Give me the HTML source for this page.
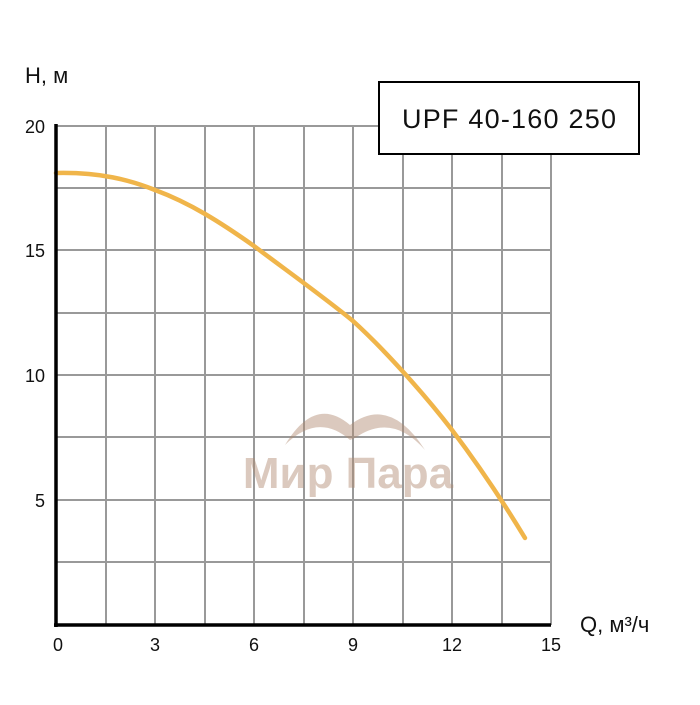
<!DOCTYPE html>
<html><head><meta charset="utf-8"><style>body{margin:0;background:#fff}</style></head>
<body>
<svg width="700" height="700" xmlns="http://www.w3.org/2000/svg" font-family="Liberation Sans, DejaVu Sans, sans-serif">
<g stroke="#999" stroke-width="2">
<line x1="106" y1="126" x2="106" y2="625"/><line x1="155" y1="126" x2="155" y2="625"/>
<line x1="205" y1="126" x2="205" y2="625"/><line x1="254" y1="126" x2="254" y2="625"/>
<line x1="304" y1="126" x2="304" y2="625"/><line x1="353" y1="126" x2="353" y2="625"/>
<line x1="403" y1="126" x2="403" y2="625"/><line x1="452" y1="126" x2="452" y2="625"/>
<line x1="502" y1="126" x2="502" y2="625"/><line x1="551" y1="126" x2="551" y2="625"/>
<line x1="56" y1="126" x2="551" y2="126"/><line x1="56" y1="188" x2="551" y2="188"/>
<line x1="56" y1="250" x2="551" y2="250"/><line x1="56" y1="313" x2="551" y2="313"/>
<line x1="56" y1="375" x2="551" y2="375"/><line x1="56" y1="437" x2="551" y2="437"/>
<line x1="56" y1="500" x2="551" y2="500"/><line x1="56" y1="562" x2="551" y2="562"/>
</g>
<g opacity="0.45" fill="#b08a70">
<path d="M285 445 Q315 395 350 425 Q390 395 425 450 Q392 412 355 438 L350 440 Q318 412 285 445Z" />
<text x="348" y="488" font-size="44" font-weight="bold" text-anchor="middle">Мир Пара</text>
</g>
<path d="M56 173 C100 172 130 180 155 190 C190 203 220 222 254 246 C290 273 325 298 353 321 C385 350 425 395 452 430 C480 467 505 505 525 538" fill="none" stroke="#f0b54a" stroke-width="4.5" stroke-linecap="round"/>
<line x1="56" y1="124" x2="56" y2="627" stroke="#000" stroke-width="3.5"/>
<line x1="54" y1="625" x2="551" y2="625" stroke="#000" stroke-width="3.5"/>
<rect x="379" y="82" width="260" height="72" fill="#fff" stroke="#000" stroke-width="2"/>
<text x="509" y="128" font-size="27" text-anchor="middle" fill="#111" textLength="214">UPF 40-160 250</text>
<g font-size="18" fill="#111">
<text x="25" y="83" font-size="22">H, м</text>
<text x="45" y="133" text-anchor="end">20</text>
<text x="45" y="257" text-anchor="end">15</text>
<text x="45" y="382" text-anchor="end">10</text>
<text x="45" y="507" text-anchor="end">5</text>
<g text-anchor="middle">
<text x="58" y="651">0</text><text x="155" y="651">3</text><text x="254" y="651">6</text>
<text x="353" y="651">9</text><text x="452" y="651">12</text><text x="551" y="651">15</text>
</g>
<text x="580" y="632" font-size="22">Q, м³/ч</text>
</g>
</svg>
</body></html>
